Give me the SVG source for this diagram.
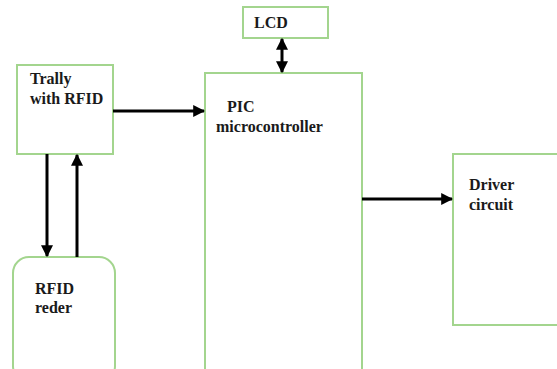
<svg xmlns="http://www.w3.org/2000/svg" width="557" height="369" viewBox="0 0 557 369">
<defs>
<style>
.box{fill:#fff;stroke:#a3d58e;stroke-width:2}
.lbl{font-family:"Liberation Serif","Times New Roman",serif;font-weight:bold;font-size:16px;fill:#1a1a1a}
.wire{stroke:#000;stroke-width:3;fill:none}
</style>
<marker id="ah" viewBox="0 0 10 10" refX="9" refY="5" markerWidth="4" markerHeight="4" orient="auto-start-reverse" markerUnits="strokeWidth">
<path d="M0,0 L10,5 L0,10 Z" fill="#000"/>
</marker>
</defs>
<rect width="557" height="369" fill="#fff"/>
<g id="trally">
<rect class="box" x="17" y="65" width="96" height="89"/>
<text class="lbl" x="30" y="84">Trally</text>
<text class="lbl" x="30" y="104">with RFID</text>
</g>
<g id="lcd">
<rect class="box" x="243" y="7" width="85" height="31"/>
<text class="lbl" x="254" y="28">LCD</text>
</g>
<g id="pic">
<rect class="box" x="205" y="73" width="157" height="300"/>
<text class="lbl" x="227" y="112">PIC</text>
<text class="lbl" x="216" y="132">microcontroller</text>
</g>
<g id="driver">
<rect class="box" x="453" y="154" width="110" height="171"/>
<text class="lbl" x="469" y="190">Driver</text>
<text class="lbl" x="469" y="210">circuit</text>
</g>
<g id="reader">
<rect class="box" x="13" y="257" width="102" height="125" rx="16" ry="16"/>
<text class="lbl" x="35" y="294">RFID</text>
<text class="lbl" x="35" y="313">reder</text>
</g>
<g id="connectors">
<line class="wire" x1="113" y1="111" x2="204" y2="111" marker-end="url(#ah)"/>
<line class="wire" x1="282" y1="39" x2="282" y2="72" marker-start="url(#ah)" marker-end="url(#ah)"/>
<line class="wire" x1="362" y1="199" x2="452" y2="199" marker-end="url(#ah)"/>
<line class="wire" x1="47" y1="154" x2="47" y2="256" marker-end="url(#ah)"/>
<line class="wire" x1="77" y1="257" x2="77" y2="155" marker-end="url(#ah)"/>
</g>
</svg>
